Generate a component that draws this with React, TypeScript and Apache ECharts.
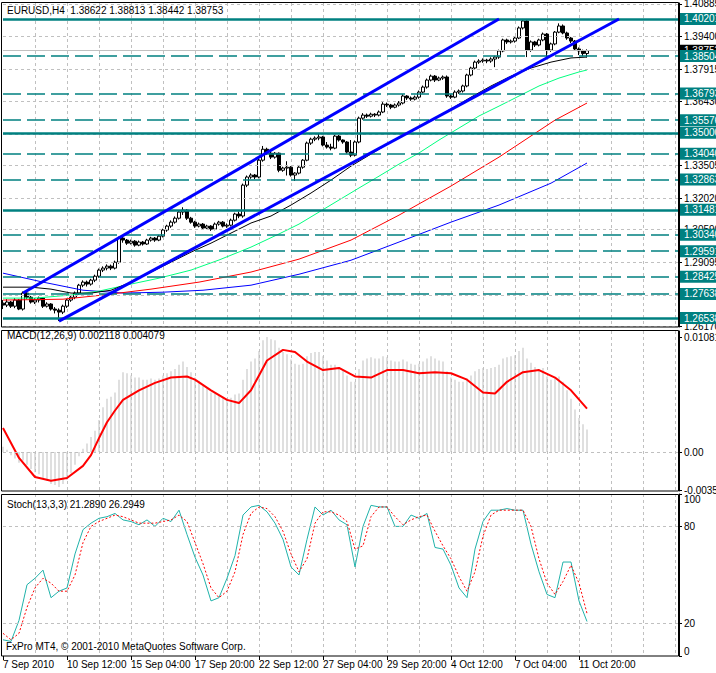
import React, { useEffect, useRef } from "react";
import * as echarts from "echarts";

const FONT = "Liberation Sans";

const tickLabels = ["7 Sep 2010", "10 Sep 12:00", "15 Sep 04:00", "17 Sep 20:00", "22 Sep 12:00", "27 Sep 04:00", "29 Sep 20:00", "4 Oct 12:00", "7 Oct 04:00", "11 Oct 20:00"];
const slotCount = 170;

// [open, close, low, high]
const candles = [
  [1.2722, 1.2713, 1.2695, 1.2736], [1.2713, 1.2727, 1.2704, 1.274], [1.2727, 1.2708, 1.27, 1.2732], [1.2708, 1.2736, 1.2699, 1.2745],
  [1.2736, 1.2695, 1.269, 1.2741], [1.2695, 1.2768, 1.2688, 1.2775], [1.2768, 1.2749, 1.274, 1.2772], [1.2749, 1.2727, 1.272, 1.2755],
  [1.2727, 1.2736, 1.2718, 1.2745], [1.2736, 1.2745, 1.2725, 1.2752], [1.2745, 1.2708, 1.27, 1.275], [1.2708, 1.2718, 1.2702, 1.2726],
  [1.2718, 1.2695, 1.2688, 1.2722], [1.2695, 1.269, 1.2675, 1.2704], [1.269, 1.2681, 1.264, 1.2698], [1.2681, 1.2708, 1.2672, 1.2715],
  [1.2708, 1.2736, 1.27, 1.2742], [1.2736, 1.2749, 1.2728, 1.2758], [1.2749, 1.2768, 1.274, 1.2775], [1.2768, 1.2804, 1.276, 1.281],
  [1.2804, 1.2818, 1.2795, 1.2826], [1.2818, 1.2809, 1.2798, 1.2825], [1.2809, 1.2827, 1.2802, 1.2833], [1.2827, 1.2845, 1.2818, 1.2852],
  [1.2845, 1.2873, 1.2838, 1.288], [1.2873, 1.2882, 1.2864, 1.289], [1.2882, 1.2891, 1.2872, 1.2899], [1.2891, 1.2882, 1.2873, 1.2898],
  [1.2882, 1.2909, 1.2876, 1.2916], [1.2909, 1.3019, 1.2902, 1.3026], [1.3019, 1.301, 1.2998, 1.303], [1.301, 1.2996, 1.2988, 1.3015],
  [1.2996, 1.3005, 1.299, 1.3012], [1.3005, 1.2987, 1.298, 1.301], [1.2987, 1.3001, 1.2982, 1.3008], [1.3001, 1.2992, 1.2985, 1.3006],
  [1.2992, 1.301, 1.2988, 1.3016], [1.301, 1.3019, 1.3003, 1.3025], [1.3019, 1.301, 1.3002, 1.3024], [1.301, 1.3028, 1.3005, 1.3034],
  [1.3028, 1.3056, 1.3022, 1.3062], [1.3056, 1.3074, 1.3048, 1.308], [1.3074, 1.3092, 1.3066, 1.31], [1.3092, 1.311, 1.3085, 1.3118],
  [1.311, 1.3138, 1.3104, 1.3145], [1.3138, 1.3147, 1.3125, 1.316], [1.3147, 1.311, 1.3102, 1.3152], [1.311, 1.3092, 1.3085, 1.3116],
  [1.3092, 1.3074, 1.3066, 1.3098], [1.3074, 1.3083, 1.3068, 1.309], [1.3083, 1.3065, 1.3058, 1.3088], [1.3065, 1.3074, 1.306, 1.308],
  [1.3074, 1.306, 1.3052, 1.3078], [1.306, 1.3083, 1.3055, 1.309], [1.3083, 1.3092, 1.3076, 1.3098], [1.3092, 1.3074, 1.3068, 1.3097],
  [1.3074, 1.3078, 1.3066, 1.3086], [1.3078, 1.3101, 1.3072, 1.3108], [1.3101, 1.3129, 1.3095, 1.3135], [1.3129, 1.312, 1.311, 1.314],
  [1.312, 1.3261, 1.3112, 1.3268], [1.3261, 1.3298, 1.3252, 1.3305], [1.3298, 1.3307, 1.329, 1.3315], [1.3307, 1.3298, 1.3288, 1.3312],
  [1.3298, 1.3375, 1.3292, 1.3382], [1.3375, 1.3425, 1.3368, 1.344], [1.3425, 1.3407, 1.34, 1.3432], [1.3407, 1.3389, 1.338, 1.3415],
  [1.3389, 1.3407, 1.3382, 1.3412], [1.3407, 1.3329, 1.332, 1.341], [1.3329, 1.3339, 1.3322, 1.3345], [1.3339, 1.3343, 1.3305, 1.337],
  [1.3343, 1.3307, 1.33, 1.3348], [1.3307, 1.3316, 1.328, 1.332], [1.3316, 1.3343, 1.331, 1.3348], [1.3343, 1.3375, 1.3336, 1.338],
  [1.3375, 1.3453, 1.337, 1.346], [1.3453, 1.3471, 1.3445, 1.3478], [1.3471, 1.3476, 1.3462, 1.3484], [1.3476, 1.3481, 1.3466, 1.3499],
  [1.3481, 1.3444, 1.3438, 1.3486], [1.3444, 1.3435, 1.3428, 1.3458], [1.3435, 1.343, 1.342, 1.345], [1.343, 1.3485, 1.3425, 1.3492],
  [1.3485, 1.3467, 1.346, 1.349], [1.3467, 1.3458, 1.345, 1.347], [1.3458, 1.3412, 1.3405, 1.3462], [1.3412, 1.3398, 1.3389, 1.3467],
  [1.3398, 1.3458, 1.3392, 1.3465], [1.3458, 1.3567, 1.3452, 1.3574], [1.3567, 1.3581, 1.356, 1.359], [1.3581, 1.3576, 1.3568, 1.3588],
  [1.3576, 1.3585, 1.357, 1.3592], [1.3585, 1.3581, 1.3572, 1.359], [1.3581, 1.3595, 1.3575, 1.3602], [1.3595, 1.3631, 1.359, 1.364],
  [1.3631, 1.3627, 1.3618, 1.3638], [1.3627, 1.3617, 1.3608, 1.3632], [1.3617, 1.3627, 1.3612, 1.3634], [1.3627, 1.3636, 1.362, 1.3645],
  [1.3636, 1.3668, 1.363, 1.3676], [1.3668, 1.3659, 1.365, 1.3672], [1.3659, 1.3654, 1.3646, 1.3666], [1.3654, 1.3663, 1.3648, 1.367],
  [1.3663, 1.3686, 1.3656, 1.3693], [1.3686, 1.3709, 1.368, 1.3716], [1.3709, 1.3741, 1.3702, 1.3748], [1.3741, 1.3759, 1.3735, 1.3766],
  [1.3759, 1.3741, 1.3732, 1.3764], [1.3741, 1.375, 1.3736, 1.3757], [1.375, 1.3755, 1.3742, 1.3762], [1.3755, 1.3668, 1.366, 1.3762],
  [1.3668, 1.3663, 1.3655, 1.3676], [1.3663, 1.3686, 1.3658, 1.3694], [1.3686, 1.3691, 1.3678, 1.3698], [1.3691, 1.3714, 1.3684, 1.372],
  [1.3714, 1.3764, 1.3708, 1.377], [1.3764, 1.3796, 1.3758, 1.3802], [1.3796, 1.3823, 1.379, 1.383], [1.3823, 1.3828, 1.3815, 1.3836],
  [1.3828, 1.3832, 1.382, 1.384], [1.3832, 1.3828, 1.3818, 1.3838], [1.3828, 1.3837, 1.382, 1.3845], [1.3837, 1.3846, 1.38, 1.3852],
  [1.3846, 1.3874, 1.3838, 1.388], [1.3874, 1.3924, 1.3868, 1.393], [1.3924, 1.3915, 1.3906, 1.393], [1.3915, 1.3919, 1.3908, 1.3926],
  [1.3919, 1.3933, 1.3912, 1.394], [1.3933, 1.3979, 1.3928, 1.3986], [1.3979, 1.4011, 1.3972, 1.402], [1.4011, 1.3878, 1.3846, 1.402],
  [1.3878, 1.3915, 1.387, 1.3922], [1.3915, 1.3901, 1.3892, 1.392], [1.3901, 1.3924, 1.3895, 1.393], [1.3924, 1.3951, 1.3918, 1.3958],
  [1.3951, 1.3878, 1.3842, 1.3956], [1.3878, 1.3906, 1.387, 1.3912], [1.3906, 1.396, 1.39, 1.3965], [1.396, 1.3988, 1.3955, 1.4],
  [1.3988, 1.3956, 1.395, 1.3995], [1.3956, 1.3933, 1.3925, 1.3962], [1.3933, 1.3919, 1.391, 1.3938], [1.3919, 1.3883, 1.3876, 1.3924],
  [1.3883, 1.3874, 1.3855, 1.389], [1.3874, 1.3862, 1.385, 1.388], [1.38622, 1.38753, 1.38442, 1.38813],
];

const priceTicks = [1.40885, 1.394, 1.37915, 1.3643, 1.34945, 1.33505, 1.3202, 1.3059, 1.29095, 1.276, 1.2617];
const solidLevels = [1.40201, 1.35, 1.31481, 1.26538];
const dashedLevels = [1.38504, 1.36793, 1.35576, 1.3404, 1.32863, 1.3034, 1.29591, 1.28425, 1.27638];
const lastPrice = 1.38753;

// moving averages, [bar index, price]
const maBlack = [[0, 1.2795], [7, 1.2795], [12, 1.2786], [17, 1.2768], [22, 1.2768], [27, 1.2781], [32, 1.2818], [37, 1.2864], [42, 1.2909], [47, 1.2955], [52, 1.2996], [57, 1.3042], [62, 1.3088], [67, 1.312], [72, 1.317], [77, 1.3225], [82, 1.3284], [87, 1.3348], [92, 1.3403], [97, 1.3458], [102, 1.3508], [107, 1.3558], [112, 1.3609], [117, 1.3663], [122, 1.3714], [127, 1.3759], [132, 1.3796], [137, 1.3823], [142, 1.3842], [146, 1.3846]];
const maGreen = [[0, 1.2745], [8, 1.2745], [17, 1.2759], [24, 1.2777], [32, 1.2809], [39, 1.2836], [47, 1.2873], [54, 1.2919], [62, 1.2978], [69, 1.3038], [74, 1.3083], [79, 1.3138], [84, 1.3193], [89, 1.3248], [94, 1.3302], [99, 1.3357], [104, 1.3408], [109, 1.3467], [114, 1.3522], [119, 1.3577], [124, 1.3622], [129, 1.3668], [134, 1.3714], [139, 1.375], [144, 1.3778], [146, 1.3787]];
const maRed = [[0, 1.2736], [15, 1.274], [25, 1.2759], [37, 1.2786], [49, 1.2818], [62, 1.2864], [74, 1.2923], [87, 1.301], [99, 1.3124], [112, 1.3257], [124, 1.3389], [138, 1.3558], [146, 1.3636]];
const maBlue = [[0, 1.2859], [10, 1.2818], [20, 1.2781], [30, 1.2768], [40, 1.2772], [50, 1.2781], [62, 1.2804], [74, 1.2854], [87, 1.2918], [99, 1.3001], [112, 1.3092], [124, 1.317], [137, 1.327], [146, 1.3362]];
const channelUpper = [[5, 1.2768], [124, 1.402]];
const channelLower = [[14, 1.264], [154, 1.402]];

const macdHist = [
  0.0005, 0.0002, -0.0003, -0.0006, -0.001, -0.0008, -0.0012, -0.0016, -0.0019, -0.0021, -0.0025, -0.0027, -0.003, -0.0031, -0.0033,
  -0.003, -0.0026, -0.002, -0.0012, -0.0004, 0.0003, 0.0008, 0.0014, 0.002, 0.003,
  0.0042, 0.005, 0.0052, 0.0056, 0.0068, 0.0075, 0.0074, 0.0072, 0.007, 0.007,
  0.0068, 0.0068, 0.0069, 0.0068, 0.0069, 0.0072, 0.0074, 0.0076, 0.0078, 0.0082,
  0.0085, 0.008, 0.0075, 0.007, 0.0067, 0.0062, 0.006, 0.0056, 0.0055, 0.0054,
  0.0052, 0.005, 0.0051, 0.0054, 0.0055, 0.0068, 0.0078, 0.0085, 0.0088, 0.0095,
  0.0105, 0.0108, 0.0106, 0.0105, 0.0098, 0.0094, 0.0092, 0.0087, 0.0083, 0.0082,
  0.0083, 0.009, 0.0093, 0.0094, 0.0094, 0.009, 0.0086, 0.0082, 0.0082, 0.008,
  0.0077, 0.0072, 0.0066, 0.0066, 0.0078, 0.0086, 0.0088, 0.0089, 0.0088, 0.0088,
  0.009, 0.0089, 0.0086, 0.0085, 0.0085, 0.0087, 0.0085, 0.0083, 0.0082, 0.0083,
  0.0085, 0.0088, 0.009, 0.0088, 0.0086, 0.0085, 0.0076, 0.007, 0.0068, 0.0066,
  0.0066, 0.0069, 0.0072, 0.0076, 0.0078, 0.0079, 0.0078, 0.0079, 0.008, 0.0082,
  0.0088, 0.0089, 0.009, 0.0091, 0.0095, 0.0098, 0.0088, 0.0084, 0.008, 0.0078,
  0.0079, 0.0071, 0.0068, 0.007, 0.0071, 0.0066, 0.0058, 0.005, 0.004, 0.0032,
  0.0026, 0.002118,
];
const macdSignal = [[0, 0.00226], [4, -0.00056], [8, -0.00235], [12, -0.0027], [16, -0.00244], [20, -0.0013], [22, -0.0003], [24, 0.0013], [26, 0.0028], [28, 0.0039], [30, 0.0049], [34, 0.0058], [38, 0.0065], [42, 0.007], [46, 0.0071], [48, 0.0068], [52, 0.0058], [56, 0.0049], [59, 0.0046], [62, 0.0058], [64, 0.0072], [66, 0.0086], [70, 0.0096], [73, 0.0094], [76, 0.0085], [80, 0.0077], [84, 0.0079], [88, 0.0071], [92, 0.007], [96, 0.0077], [100, 0.0077], [104, 0.0074], [108, 0.0075], [112, 0.0074], [116, 0.0068], [120, 0.0056], [123, 0.0055], [126, 0.0066], [130, 0.0075], [134, 0.0077], [138, 0.007], [142, 0.0058], [146, 0.004079]];
const macdTicks = [0.01081, 0, -0.00358];

const stochK = [[0, 10], [2, 9], [4, 22], [6, 44], [8, 48], [10, 53], [12, 36], [14, 40], [16, 42], [18, 63], [20, 78], [22, 82], [24, 85], [26, 86], [28, 88], [30, 84], [32, 83], [34, 81], [36, 84], [38, 80], [40, 85], [42, 83], [44, 90], [46, 75], [48, 61], [50, 50], [52, 34], [54, 36], [56, 48], [58, 62], [60, 87], [62, 92], [64, 93], [66, 89], [68, 82], [70, 72], [72, 55], [74, 50], [76, 72], [78, 92], [80, 87], [82, 90], [84, 84], [86, 81], [88, 55], [90, 80], [92, 93], [94, 92], [96, 92], [98, 80], [100, 80], [102, 87], [104, 85], [106, 88], [108, 67], [110, 66], [112, 56], [114, 42], [116, 36], [118, 66], [120, 83], [122, 90], [124, 90], [126, 91], [128, 90], [130, 90], [132, 69], [134, 52], [136, 38], [138, 36], [140, 58], [142, 58], [144, 34], [146, 21.289]];
const stochD = [[0, 14], [2, 10], [4, 14], [6, 30], [8, 42], [10, 48], [12, 45], [14, 40], [16, 40], [18, 50], [20, 70], [22, 80], [24, 83], [26, 85], [28, 87], [30, 86], [32, 84], [34, 82], [36, 82], [38, 82], [40, 83], [42, 84], [44, 87], [46, 83], [48, 70], [50, 57], [52, 42], [54, 36], [56, 40], [58, 52], [60, 75], [62, 88], [64, 92], [66, 91], [68, 86], [70, 77], [72, 63], [74, 52], [76, 60], [78, 82], [80, 89], [82, 89], [84, 87], [86, 83], [88, 66], [90, 68], [92, 86], [94, 92], [96, 92], [98, 86], [100, 81], [102, 84], [104, 86], [106, 87], [108, 77], [110, 68], [112, 60], [114, 49], [116, 40], [118, 52], [120, 74], [122, 87], [124, 90], [126, 90], [128, 90], [130, 90], [132, 80], [134, 60], [136, 45], [138, 38], [140, 46], [142, 56], [144, 45], [146, 26.2949]];
const stochTicks = [0, 20, 80, 100];

const titleMain = "EURUSD,H4  1.38622 1.38813 1.38442 1.38753";
const titleMacd = "MACD(12,26,9) 0.002118 0.004079";
const titleStoch = "Stoch(13,3,3) 21.2890 26.2949";
const copyright = "FxPro MT4, \u00a9 2001-2010 MetaQuotes Software Corp.";

const TEAL = "#008080";
const GRIDC = "#c0c0c0";

export default function App() {
  const ref = useRef<HTMLDivElement>(null);
  useEffect(() => {
    if (!ref.current) return;
    const chart = echarts.init(ref.current, null, { renderer: "svg" });
    const categories = Array.from({ length: slotCount }, (_, i) => String(i));
    const grids = [
      { left: 3, top: 3, width: 676, height: 324 },
      { left: 3, top: 331, width: 676, height: 160 },
      { left: 3, top: 494, width: 676, height: 162 },
    ].map((g) => ({ ...g, show: false, containLabel: false, outerBoundsMode: "none" }));

    const xAxis = [0, 1, 2].map((gi) => ({
      type: "category",
      gridIndex: gi,
      data: categories,
      boundaryGap: false,
      axisLine: { show: false },
      axisTick: gi === 2 ? { show: true, length: 4, interval: (i: number) => i % 16 === 0 && i / 16 < tickLabels.length, lineStyle: { color: "#000" } } : { show: false },
      axisLabel: gi === 2 ? {
        show: true,
        interval: (i: number) => i % 16 === 0 && i / 16 < tickLabels.length,
        formatter: (_v: string, i: number) => tickLabels[i / 16] ?? "",
        align: "left",
        margin: 3,
        color: "#000",
        fontSize: 10,
        fontFamily: FONT,
      } : { show: false },
      splitLine: { show: true, interval: (i: number) => i > 0 && i % 8 === 0, lineStyle: { color: GRIDC, type: [3, 3], width: 1 } },
    }));

    const labelCommon = { color: "#000", fontSize: 10, fontFamily: FONT, margin: 5, hideOverlap: false };
    const yAxis = [
      {
        type: "value", gridIndex: 0, position: "right", min: 1.2613, max: 1.4093, scale: true,
        axisLine: { show: true, lineStyle: { color: "#000" } },
        axisTick: { show: true, length: 3, customValues: priceTicks, lineStyle: { color: "#000" } },
        axisLabel: { ...labelCommon, customValues: priceTicks, formatter: (v: number) => v.toFixed(5) },
        splitLine: { show: false },
      },
      {
        type: "value", gridIndex: 1, position: "right", min: -0.003666, max: 0.011374,
        axisLine: { show: true, lineStyle: { color: "#000" } },
        axisTick: { show: true, length: 3, customValues: macdTicks, lineStyle: { color: "#000" } },
        axisLabel: { ...labelCommon, customValues: macdTicks, formatter: (v: number) => (v === 0 ? "0.00" : v.toFixed(5)) },
        splitLine: { show: false },
      },
      {
        type: "value", gridIndex: 2, position: "right", min: 0, max: 100,
        axisLine: { show: true, lineStyle: { color: "#000" } },
        axisTick: { show: true, length: 3, customValues: stochTicks, lineStyle: { color: "#000" } },
        axisLabel: {
          ...labelCommon, customValues: stochTicks,
          verticalAlignMaxLabel: "top", verticalAlignMinLabel: "bottom",
          formatter: (v: number) => String(v),
        },
        splitLine: { show: false },
      },
    ];

    const levelLabel = (bg: string) => ({
      show: true, position: "end", distance: 1, formatter: (p: any) => Number(p.value).toFixed(5),
      backgroundColor: bg, color: "#fff", fontSize: 10, fontFamily: FONT, lineHeight: 11, padding: [1, 8, 0, 4],
    });
    const gridLineItems = priceTicks.map((v) => ({ yAxis: v, lineStyle: { color: GRIDC, type: [3, 3], width: 1 }, label: { show: false } }));
    const levelItems = [
      { yAxis: lastPrice, lineStyle: { color: GRIDC, type: "solid", width: 1 }, label: levelLabel("#000") },
      ...solidLevels.map((v) => ({ yAxis: v, lineStyle: { color: TEAL, type: "solid", width: 2.5 }, label: levelLabel(TEAL) })),
      ...dashedLevels.map((v) => ({ yAxis: v, lineStyle: { color: TEAL, type: [18, 6], width: 1.5 }, label: levelLabel(TEAL) })),
    ];

    const lineBase = { type: "line", symbol: "none", showSymbol: false, silent: true, animation: false };

    const option: any = {
      animation: false,
      backgroundColor: "#fff",
      textStyle: { fontFamily: FONT },
      grid: grids,
      xAxis,
      yAxis,
      series: [
        { ...lineBase, name: "grid", xAxisIndex: 0, yAxisIndex: 0, data: [], z: 0,
          markLine: { silent: true, symbol: "none", animation: false, precision: 5, data: gridLineItems } },
        { ...lineBase, name: "levels", xAxisIndex: 0, yAxisIndex: 0, data: [], z: 1,
          markLine: { silent: true, symbol: "none", animation: false, precision: 5, data: levelItems } },
        {
          type: "candlestick", name: "EURUSD", xAxisIndex: 0, yAxisIndex: 0, data: candles, barWidth: 3, clip: false, z: 3, silent: true,
          itemStyle: { color: "#fff", color0: "#000", borderColor: "#000", borderColor0: "#000", borderWidth: 1 },
        },
        { ...lineBase, name: "MA blue", xAxisIndex: 0, yAxisIndex: 0, data: maBlue, lineStyle: { color: "#0000ff", width: 1 }, z: 4 },
        { ...lineBase, name: "MA red", xAxisIndex: 0, yAxisIndex: 0, data: maRed, lineStyle: { color: "#ff0000", width: 1 }, z: 4 },
        { ...lineBase, name: "MA green", xAxisIndex: 0, yAxisIndex: 0, data: maGreen, lineStyle: { color: "#00ff7f", width: 1 }, z: 4 },
        { ...lineBase, name: "MA black", xAxisIndex: 0, yAxisIndex: 0, data: maBlack, lineStyle: { color: "#000", width: 1 }, z: 4 },
        { ...lineBase, name: "channel upper", xAxisIndex: 0, yAxisIndex: 0, data: channelUpper, lineStyle: { color: "#0000ff", width: 3 }, z: 5 },
        { ...lineBase, name: "channel lower", xAxisIndex: 0, yAxisIndex: 0, data: channelLower, lineStyle: { color: "#0000ff", width: 3 }, z: 5 },
        {
          type: "bar", name: "MACD", xAxisIndex: 1, yAxisIndex: 1, data: macdHist, barWidth: 1, silent: true,
          itemStyle: { color: GRIDC },
          markLine: { silent: true, symbol: "none", animation: false, data: [{ yAxis: 0, lineStyle: { color: GRIDC, type: [3, 3], width: 1 }, label: { show: false } }] },
        },
        { ...lineBase, name: "Signal", xAxisIndex: 1, yAxisIndex: 1, data: macdSignal, lineStyle: { color: "#ff0000", width: 2 }, z: 4 },
        { ...lineBase, name: "Stoch grid", xAxisIndex: 2, yAxisIndex: 2, data: [], z: 0,
          markLine: { silent: true, symbol: "none", animation: false, data: [80, 20].map((v) => ({ yAxis: v, lineStyle: { color: GRIDC, type: [3, 3], width: 1 }, label: { show: false } })) } },
        { ...lineBase, name: "%K", xAxisIndex: 2, yAxisIndex: 2, data: stochK, lineStyle: { color: "#20b2aa", width: 1 }, z: 4 },
        { ...lineBase, name: "%D", xAxisIndex: 2, yAxisIndex: 2, data: stochD, lineStyle: { color: "#ff0000", width: 1, type: [2, 2] }, z: 5 },
      ],
      graphic: [
        { type: "rect", silent: true, z: 100, shape: { x: 1.5, y: 2.5, width: 677, height: 324.5 }, style: { fill: "none", stroke: "#000", lineWidth: 1 } },
        { type: "rect", silent: true, z: 100, shape: { x: 1.5, y: 330.5, width: 677, height: 160.5 }, style: { fill: "none", stroke: "#000", lineWidth: 1 } },
        { type: "rect", silent: true, z: 100, shape: { x: 1.5, y: 494.5, width: 677, height: 161.5 }, style: { fill: "none", stroke: "#000", lineWidth: 1 } },
        { type: "text", silent: true, z: 100, x: 7, y: 5, style: { text: titleMain, fill: "#000", font: `10px "${FONT}"` } },
        { type: "text", silent: true, z: 100, x: 7, y: 330, style: { text: titleMacd, fill: "#000", font: `10px "${FONT}"` } },
        { type: "text", silent: true, z: 100, x: 7, y: 499, style: { text: titleStoch, fill: "#000", font: `10px "${FONT}"` } },
        { type: "text", silent: true, z: 100, x: 6, y: 641, style: { text: copyright, fill: "#000", font: `10px "${FONT}"` } },
      ],
    };
    chart.setOption(option);
    return () => chart.dispose();
  }, []);
  return <div ref={ref} style={{ position: "absolute", left: 0, top: 0, width: 716, height: 673, background: "#fff" }} />;
}
